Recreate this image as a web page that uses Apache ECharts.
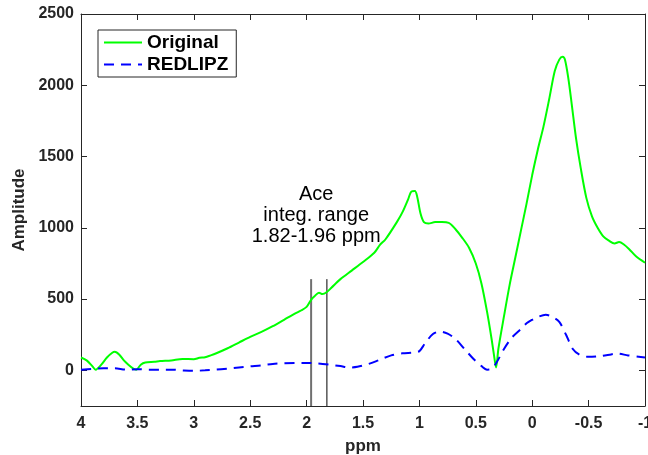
<!DOCTYPE html>
<html>
<head>
<meta charset="utf-8">
<script src="https://cdn.jsdelivr.net/npm/echarts@6/dist/echarts.min.js"></script>
<style>html,body{margin:0;padding:0;background:#fff}#c{width:648px;height:455px}</style>
</head>
<body>
<div id="c"></div>
<script>
// ---- data ----
const origPpm = [4.00,3.95,3.90,3.87,3.82,3.77,3.72,3.70,3.66,3.62,3.58,3.54,3.51,3.47,3.43,3.35,3.30,3.20,3.10,3.00,2.95,2.90,2.85,2.80,2.70,2.60,2.50,2.40,2.30,2.20,2.10,2.05,2.00,1.96,1.93,1.89,1.86,1.82,1.78,1.70,1.60,1.50,1.40,1.35,1.30,1.20,1.15,1.10,1.07,1.04,1.02,0.99,0.96,0.92,0.86,0.80,0.74,0.68,0.62,0.56,0.50,0.45,0.40,0.36,0.33,0.32,0.30,0.25,0.20,0.15,0.10,0.05,0.00,-0.05,-0.10,-0.15,-0.20,-0.24,-0.27,-0.29,-0.32,-0.35,-0.39,-0.43,-0.48,-0.53,-0.58,-0.63,-0.68,-0.73,-0.77,-0.81,-0.86,-0.92,-1.00];
const origAmp = [90,70,30,5,40,90,125,130,110,70,40,15,5,40,55,60,65,70,80,78,88,92,105,120,155,195,235,270,310,355,400,420,445,495,520,545,535,550,580,640,700,760,825,880,920,1040,1110,1200,1255,1258,1220,1100,1040,1030,1040,1040,1035,990,930,860,750,610,410,220,60,20,150,380,600,790,980,1170,1370,1550,1710,1900,2100,2180,2200,2180,2050,1870,1620,1420,1210,1080,1000,940,910,890,900,885,850,800,755];
const redPpm = [4.00,3.90,3.80,3.70,3.60,3.50,3.40,3.30,3.20,3.10,3.00,2.90,2.80,2.70,2.60,2.50,2.40,2.30,2.20,2.10,2.00,1.90,1.80,1.70,1.62,1.55,1.45,1.35,1.25,1.15,1.05,1.00,0.95,0.88,0.82,0.75,0.68,0.60,0.52,0.45,0.40,0.36,0.32,0.25,0.18,0.10,0.05,0.00,-0.05,-0.12,-0.18,-0.24,-0.30,-0.36,-0.42,-0.50,-0.60,-0.70,-0.75,-0.85,-1.00];
const redAmp = [5,10,15,15,5,8,5,5,5,0,-3,0,5,12,20,28,35,45,50,52,52,48,40,30,20,25,45,75,105,120,125,135,190,255,272,258,220,150,80,30,5,10,50,150,230,290,330,355,375,390,375,340,250,150,110,95,100,112,118,105,90];
const integLow = 1.82, integHigh = 1.96;
const integLineTop = 640;
const annotationLines = ['Ace', 'integ. range', '1.82-1.96 ppm'];
const annotationAt = [1.915, 1090];
const xMin = -1, xMax = 4, xStep = 0.5;
const yMin = -250, yMax = 2500;
const seriesNames = ['Original', 'REDLIPZ'];

const zip = (a, b) => a.map((v, i) => [v, b[i]]);
const axisColor = '#262626';
const font = 'Liberation Sans, Arial, Helvetica, sans-serif';

const chart = echarts.init(document.getElementById('c'), null, {renderer: 'canvas'});
const baseX = {
  type: 'value', min: xMin, max: xMax, interval: xStep, inverse: true,
  axisLine: {show: true, onZero: false, lineStyle: {color: axisColor, width: 1}},
  axisTick: {show: true, inside: true, length: 6, lineStyle: {color: axisColor}},
  splitLine: {show: false}
};
const baseY = {
  type: 'value', min: yMin, max: yMax, splitNumber: 5,
  axisLine: {show: true, onZero: false, lineStyle: {color: axisColor, width: 1}},
  axisTick: {show: true, inside: true, length: 6, lineStyle: {color: axisColor}},
  splitLine: {show: false}
};
chart.setOption({
  animation: false,
  backgroundColor: '#fff',
  grid: {left: 81, right: 3, top: 14, bottom: 49, containLabel: false, outerBoundsMode: 'none'},
  legend: {
    data: seriesNames, orient: 'vertical', left: 98, top: 30,
    backgroundColor: '#fff', borderColor: axisColor, borderWidth: 1, borderRadius: 0,
    padding: [3, 8, 3, 5], itemGap: 3, itemWidth: 38, itemHeight: 20,
    itemStyle: {opacity: 0, color: 'rgba(0,0,0,0)', borderWidth: 0},
    textStyle: {fontFamily: font, fontWeight: 'bold', fontSize: 19, color: '#000'}
  },
  xAxis: [
    Object.assign({}, baseX, {
      position: 'bottom', name: 'ppm', nameLocation: 'middle', nameGap: 32,
      nameTextStyle: {fontFamily: font, fontWeight: 'bold', fontSize: 17, color: axisColor},
      axisLabel: {fontFamily: font, fontWeight: 'bold', fontSize: 16, color: axisColor, margin: 10}
    }),
    Object.assign({}, baseX, {position: 'top', axisLabel: {show: false}})
  ],
  yAxis: [
    Object.assign({}, baseY, {
      position: 'left', name: 'Amplitude', nameLocation: 'middle', nameGap: 50,
      nameTextStyle: {fontFamily: font, fontWeight: 'bold', fontSize: 17, color: axisColor},
      axisLabel: {fontFamily: font, fontWeight: 'bold', fontSize: 16, color: axisColor, margin: 7, showMinLabel: false,
        formatter: v => (v % 500 === 0 ? String(v) : '')}
    }),
    Object.assign({}, baseY, {position: 'right', axisLabel: {show: false}})
  ],
  series: [
    {
      name: seriesNames[0], type: 'line', data: zip(origPpm, origAmp), symbol: 'none', smooth: 0.3,
      lineStyle: {color: '#00ff00', width: 2}, itemStyle: {color: '#00ff00'}, z: 3,
      markPoint: {
        symbol: 'circle', symbolSize: 0, silent: true,
        data: [{coord: annotationAt}],
        label: {show: true, position: 'inside', formatter: annotationLines.join('\n'),
          fontFamily: font, fontSize: 20, lineHeight: 21, color: '#000', align: 'center', verticalAlign: 'middle'}
      }
    },
    {
      name: seriesNames[1], type: 'line', data: zip(redPpm, redAmp), symbol: 'none', smooth: 0.3,
      lineStyle: {color: '#0000ff', width: 2, type: [10, 7]}, itemStyle: {color: '#0000ff'}, z: 4
    },
    {
      name: 'high', type: 'line', data: [[integHigh, yMin], [integHigh, integLineTop]], symbol: 'none',
      lineStyle: {color: '#707070', width: 2}, z: 2, silent: true
    },
    {
      name: 'low', type: 'line', data: [[integLow, yMin], [integLow, integLineTop]], symbol: 'none',
      lineStyle: {color: '#000', width: 1}, z: 2, silent: true
    }
  ]
});
</script>
</body>
</html>
